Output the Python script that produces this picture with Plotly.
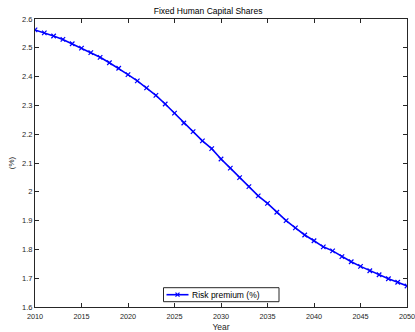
import plotly.graph_objects as go

years = list(range(2010, 2051))
risk_premium = [2.562, 2.552, 2.541, 2.529, 2.514, 2.499, 2.483, 2.467, 2.448, 2.429,
                2.407, 2.385, 2.361, 2.335, 2.305, 2.273, 2.239, 2.209, 2.177, 2.150,
                2.114, 2.082, 2.049, 2.018, 1.986, 1.960, 1.929, 1.900, 1.875, 1.850,
                1.830, 1.809, 1.795, 1.775, 1.757, 1.741, 1.726, 1.712, 1.698, 1.686,
                1.673]
series_name = "Risk premium (%)"

x_ticks = list(range(2010, 2051, 5))
y_ticks = [1.6, 1.7, 1.8, 1.9, 2.0, 2.1, 2.2, 2.3, 2.4, 2.5, 2.6]
y_tick_text = ["1.6", "1.7", "1.8", "1.9", "2", "2.1", "2.2", "2.3", "2.4", "2.5", "2.6"]

axis_color = "#262626"
blue = "#0000ff"
font_family = "Liberation Sans, Arial, sans-serif"

W, H = 415, 332
ML, MR, MT, MB = 35, 8, 19, 25
PW, PH = W - ML - MR, H - MT - MB


def px_x(p):
    return (p - ML) / PW


def px_y(p):
    return (H - MB - p) / PH


fig = go.Figure()
fig.add_trace(go.Scatter(
    x=years, y=risk_premium, mode="lines+markers", name=series_name,
    line=dict(color=blue, width=1.6),
    marker=dict(symbol="x-thin", size=4.5, line=dict(color=blue, width=1.2)),
    showlegend=False,
))

# MATLAB-style legend box drawn as paper-referenced decoration
lx0, lx1, ly0, ly1 = 163.5, 279, 287.7, 301.7
ly = (ly0 + ly1) / 2
shapes = [
    dict(type="rect", xref="paper", yref="paper",
         x0=px_x(lx0), x1=px_x(lx1), y0=px_y(ly1), y1=px_y(ly0),
         line=dict(color=axis_color, width=1), fillcolor="white", layer="above"),
    dict(type="line", xref="paper", yref="paper",
         x0=px_x(166.5), x1=px_x(188.5), y0=px_y(ly), y1=px_y(ly),
         line=dict(color=blue, width=1.6), layer="above"),
]
cx, d = 177.5, 2.0
shapes += [
    dict(type="line", xref="paper", yref="paper",
         x0=px_x(cx - d), x1=px_x(cx + d), y0=px_y(ly - d), y1=px_y(ly + d),
         line=dict(color=blue, width=1.2), layer="above"),
    dict(type="line", xref="paper", yref="paper",
         x0=px_x(cx - d), x1=px_x(cx + d), y0=px_y(ly + d), y1=px_y(ly - d),
         line=dict(color=blue, width=1.2), layer="above"),
]

fig.update_layout(
    width=W, height=H,
    margin=dict(l=ML, r=MR, t=MT, b=MB, autoexpand=False),
    paper_bgcolor="white", plot_bgcolor="white",
    font=dict(family=font_family, size=8, color=axis_color),
    title=dict(text="Fixed Human Capital Shares", x=px_x(221.5), xanchor="center",
               y=1 - 11 / H, yanchor="middle",
               font=dict(size=8.5, color="#000000")),
    showlegend=False,
    shapes=shapes,
    annotations=[dict(text=series_name, xref="paper", yref="paper",
                      x=px_x(190), y=px_y(ly), xanchor="left", yanchor="middle",
                      showarrow=False, font=dict(size=8.5, color="#000000"))],
)

fig.update_xaxes(
    range=[2010, 2050], tickvals=x_ticks, ticktext=[str(v) for v in x_ticks],
    showgrid=False, zeroline=False, automargin=False,
    showline=True, linecolor=axis_color, linewidth=1, mirror="ticks",
    ticks="inside", ticklen=4, tickcolor=axis_color, tickwidth=1,
    ticklabeloverflow="allow", ticklabelstandoff=2,
    tickfont=dict(size=7.3, color=axis_color),
    title=dict(text="Year", font=dict(size=8.5, color=axis_color), standoff=4),
)
fig.update_yaxes(
    range=[1.6, 2.6], tickvals=y_ticks, ticktext=y_tick_text,
    showgrid=False, zeroline=False, automargin=False,
    showline=True, linecolor=axis_color, linewidth=1, mirror="ticks",
    ticks="inside", ticklen=4, tickcolor=axis_color, tickwidth=1,
    ticklabeloverflow="allow",
    tickfont=dict(size=7.5, color=axis_color),
    title=dict(text="(%)", font=dict(size=8, color=axis_color), standoff=6),
)

fig.write_html("out.html")
